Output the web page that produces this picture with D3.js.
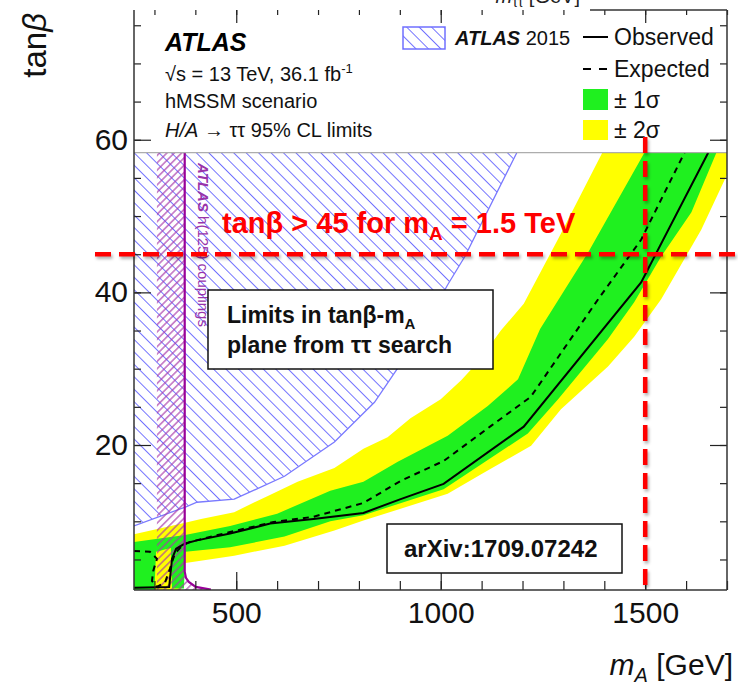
<!DOCTYPE html>
<html>
<head>
<meta charset="utf-8">
<script src="https://cdn.jsdelivr.net/npm/d3@7"></script>
<style>
  body { margin: 0; background: #fff; }
  text { font-family: "Liberation Sans", Arial, Helvetica, sans-serif; }
</style>
</head>
<body>
<div id="viz"></div>
<script>
// ---- data (mA in GeV, tan beta) ----
var tanTop = 58.3;   // top edge of the scanned region

var obsMass = [250, 336, 343, 353, 375, 404, 485, 583, 689, 811, 902, 1007, 1203, 1490, 1654];
var obsTan  = [1.3, 1.4, 5.1, 6.4, 7.1, 7.5, 8.4, 9.7, 10.3, 11.1, 12.9, 14.9, 22.4, 41.3, 58.3];

var expMass = [250, 289, 306, 297, 294, 306, 326, 338, 350, 368, 387, 485, 591, 689, 811, 902, 1007, 1123, 1220, 1385, 1490, 1596];
var expTan  = [6.1, 6.0, 5.1, 3.5, 2.2, 1.4, 2.0, 3.8, 5.8, 6.8, 7.3, 8.6, 9.9, 10.6, 12.4, 15.3, 17.9, 22.5, 26.3, 39.1, 46.9, 58.3];

var greenUpMass = [250, 375, 485, 600, 730, 811, 895, 1017, 1115, 1189, 1243, 1360, 1498];
var greenUpTan  = [7.3, 8.2, 9.4, 11.0, 14.0, 15.2, 17.8, 21.2, 25.1, 28.6, 35.2, 45.2, 58.3];
var greenLoMass = [250, 300, 304, 340, 343, 372, 376, 485, 618, 730, 811, 1007, 1213, 1287, 1409, 1473, 1539, 1613, 1674];
var greenLoTan  = [1, 1, 6.0, 6.5, 1.2, 1.2, 6.0, 6.6, 8.0, 10.0, 10.8, 14.2, 21.5, 26.0, 33.9, 38.7, 44.7, 50.5, 58.3];

var yellowUpMass = [250, 375, 414, 495, 576, 650, 740, 811, 870, 926, 1000, 1050, 1090, 1147, 1203, 1287, 1395];
var yellowUpTan  = [8.3, 9.8, 10.3, 11.2, 13.3, 15.2, 17.0, 19.5, 21.0, 23.5, 26.0, 28.5, 30.8, 35.0, 38.5, 47.0, 58.3];
var yellowLoMass = [250, 365, 372, 495, 618, 740, 811, 900, 1017, 1100, 1221, 1294, 1409, 1473, 1539, 1637, 1700, 1720];
var yellowLoTan  = [1, 1, 4.5, 5.5, 6.8, 8.8, 10.1, 11.6, 13.6, 16.2, 19.9, 24.7, 30.3, 34.2, 39.1, 48.2, 55.4, 58.3];

// ATLAS 2015 exclusion boundary
var run1Mass = [250, 377, 404, 495, 618, 740, 838, 904, 961, 1017, 1059, 1186];
var run1Tan  = [9.4, 11.9, 12.5, 12.9, 15.9, 20.4, 25.6, 30.8, 35.6, 41.0, 44.7, 58.3];

// h(125) couplings contour and the hatched side of it
var hcMass = [374, 374, 377, 384, 401, 438];
var hcTan  = [58.3, 3.4, 2.6, 2.05, 1.4, 1.05];
var hcHatchLeft = 306;

var xMajor = [500, 1000, 1500];
var yMajor = [20, 40, 60];
var limitTan = 45, limitMass = 1500;

// ---- setup ----
var width = 738, height = 688;
var svg = d3.select("#viz").append("svg")
    .attr("width", width).attr("height", height);
svg.append("rect").attr("width", width).attr("height", height).attr("fill", "#fff");

var x = d3.scaleLinear().domain([250, 1700]).range([134, 727]);
var y = d3.scaleLinear().domain([1, 77]).range([590, 10]);

var defs = svg.append("defs");
defs.append("clipPath").attr("id", "plotClip").append("rect")
    .attr("x", x(250)).attr("y", y(tanTop))
    .attr("width", x(1700) - x(250)).attr("height", y(1) - y(tanTop));

function hatch(id, size, angle, color, w) {
    var p = defs.append("pattern").attr("id", id)
        .attr("patternUnits", "userSpaceOnUse")
        .attr("width", size).attr("height", size)
        .attr("patternTransform", "rotate(" + angle + ")");
    p.append("line").attr("x1", size / 2).attr("x2", size / 2)
        .attr("y1", 0).attr("y2", size)
        .attr("stroke", color).attr("stroke-width", w);
}
hatch("blueHatch", 8.8, -45, "#7272ff", 1);
hatch("purpleHatch", 5.2, 45, "#a838a8", 1.1);

var blur = defs.append("filter").attr("id", "shadow")
    .attr("filterUnits", "userSpaceOnUse")
    .attr("x", 0).attr("y", 0).attr("width", width).attr("height", height);
blur.append("feGaussianBlur").attr("stdDeviation", 1.6);

var line = d3.line().x(function(d) { return x(d[0]); }).y(function(d) { return y(d[1]); });
function band(upM, upT, loM, loT) {
    var pts = d3.zip(upM, upT).concat(d3.zip(loM, loT).reverse());
    return line(pts) + "Z";
}

// ---- plot area ----
var plot = svg.append("g").attr("clip-path", "url(#plotClip)");

var run1Pts = d3.zip(run1Mass, run1Tan);
plot.append("path")
    .attr("d", line([[250, tanTop]].concat(run1Pts)) + "Z")
    .attr("fill", "url(#blueHatch)");
plot.append("path").attr("d", line(run1Pts))
    .attr("fill", "none").attr("stroke", "#7a7aff").attr("stroke-width", 1.3);

plot.append("path").attr("d", band(yellowUpMass, yellowUpTan, yellowLoMass, yellowLoTan))
    .attr("fill", "#ffff00");
plot.append("path").attr("d", band(greenUpMass, greenUpTan, greenLoMass, greenLoTan))
    .attr("fill", "#1ff01f");

var hcPts = d3.zip(hcMass, hcTan);
plot.append("path")
    .attr("d", line([[hcHatchLeft, tanTop]].concat(hcPts).concat([[438, 1], [hcHatchLeft, 1]])) + "Z")
    .attr("fill", "url(#purpleHatch)");

plot.append("path").attr("d", line(d3.zip(expMass, expTan)))
    .attr("fill", "none").attr("stroke", "#000").attr("stroke-width", 2)
    .attr("stroke-dasharray", "6,5");
plot.append("path").attr("d", line(d3.zip(obsMass, obsTan)))
    .attr("fill", "none").attr("stroke", "#000").attr("stroke-width", 2);
plot.append("path").attr("d", line(hcPts))
    .attr("fill", "none").attr("stroke", "#990099").attr("stroke-width", 2.2);

// grey line at the top of the scanned region
svg.append("line").attr("x1", x(250)).attr("x2", x(1700))
    .attr("y1", y(tanTop)).attr("y2", y(tanTop))
    .attr("stroke", "#999").attr("stroke-width", 1);

// ---- axes ----
function styleAxis(g, size) {
    g.select(".domain").remove();
    g.selectAll(".tick line").attr("stroke", "#222").attr("stroke-width", 1.2);
    g.selectAll("text").attr("font-size", size).attr("fill", "#111")
        .attr("font-family", "'Liberation Sans', Arial, sans-serif");
}
var xMinor = d3.range(300, 1701, 100);
var yMinor = d3.range(5, 76, 5);

svg.append("g").attr("transform", "translate(0,590)")
    .call(d3.axisBottom(x).tickValues(xMinor).tickSize(-9).tickFormat(""))
    .call(styleAxis, 30);
svg.append("g").attr("transform", "translate(0,590)")
    .call(d3.axisBottom(x).tickValues(xMajor).tickSize(-18).tickPadding(12).tickFormat(d3.format("d")))
    .call(styleAxis, 30);
svg.append("g").attr("transform", "translate(0,10)")
    .call(d3.axisTop(x).tickValues(xMinor).tickSize(-5).tickFormat(""))
    .call(styleAxis, 30);
svg.append("g").attr("transform", "translate(0,10)")
    .call(d3.axisTop(x).tickValues(xMajor).tickSize(-13).tickFormat(""))
    .call(styleAxis, 30);
svg.append("g").attr("transform", "translate(134,0)")
    .call(d3.axisLeft(y).tickValues(yMinor).tickSize(-7).tickFormat(""))
    .call(styleAxis, 30);
svg.append("g").attr("transform", "translate(134,0)")
    .call(d3.axisLeft(y).tickValues(yMajor).tickSize(-17).tickPadding(6).tickFormat(d3.format("d")))
    .call(styleAxis, 30);
svg.append("g").attr("transform", "translate(727,0)")
    .call(d3.axisRight(y).tickValues(yMinor).tickSize(-7).tickFormat(""))
    .call(styleAxis, 30);
svg.append("g").attr("transform", "translate(727,0)")
    .call(d3.axisRight(y).tickValues(yMajor).tickSize(-17).tickFormat(""))
    .call(styleAxis, 30);

// frame
var frame = svg.append("g").attr("stroke", "#333").attr("stroke-width", 1.5);
frame.append("line").attr("x1", 134).attr("x2", 134).attr("y1", 10).attr("y2", 590);
frame.append("line").attr("x1", 727).attr("x2", 727).attr("y1", 10).attr("y2", 590);
frame.append("line").attr("x1", 134).attr("x2", 727).attr("y1", 590).attr("y2", 590);
frame.append("line").attr("x1", 590).attr("x2", 727).attr("y1", 10).attr("y2", 10);

// axis titles
var xt = svg.append("text").attr("x", 733).attr("y", 675).attr("text-anchor", "end")
    .attr("font-size", 30).attr("fill", "#111");
xt.append("tspan").attr("font-style", "italic").text("m");
xt.append("tspan").attr("font-style", "italic").attr("font-size", 20).attr("dy", 7).text("A");
xt.append("tspan").attr("dy", -7).text(" [GeV]");

var yt = svg.append("text").attr("transform", "translate(46,13) rotate(-90)")
    .attr("text-anchor", "end").attr("font-size", 33).attr("fill", "#111");
yt.append("tspan").text("tan");
yt.append("tspan").attr("font-style", "italic").text("β");

// cut-off title of the panel above
var cut = svg.append("text").attr("x", 580).attr("y", 3).attr("text-anchor", "end")
    .attr("font-size", 20).attr("fill", "#222");
cut.append("tspan").attr("font-style", "italic").text("m");
cut.append("tspan").attr("font-size", 14).attr("dy", 4).text("ττ");
cut.append("tspan").attr("dy", -4).text(" [GeV]");

// ---- ATLAS label block ----
svg.append("text").attr("x", 165).attr("y", 51).attr("font-size", 25)
    .attr("font-weight", "bold").attr("font-style", "italic").attr("fill", "#000").text("ATLAS");
var l2 = svg.append("text").attr("x", 165).attr("y", 81).attr("font-size", 20).attr("fill", "#111");
l2.append("tspan").text("√s = 13 TeV, 36.1 fb");
l2.append("tspan").attr("font-size", 13).attr("dy", -8).text("-1");
svg.append("text").attr("x", 165).attr("y", 108).attr("font-size", 20).attr("fill", "#111")
    .text("hMSSM scenario");
var l4 = svg.append("text").attr("x", 165).attr("y", 137).attr("font-size", 20).attr("fill", "#111");
l4.append("tspan").attr("font-style", "italic").text("H/A");
l4.append("tspan").text(" → ττ 95% CL limits");

// ---- legend ----
svg.append("rect").attr("x", 403).attr("y", 27).attr("width", 42).attr("height", 22)
    .attr("fill", "url(#blueHatch)").attr("stroke", "#7070ff").attr("stroke-width", 1.5);
var lg = svg.append("text").attr("x", 455).attr("y", 45).attr("font-size", 20).attr("fill", "#111");
lg.append("tspan").attr("font-weight", "bold").attr("font-style", "italic").text("ATLAS");
lg.append("tspan").text(" 2015");

svg.append("line").attr("x1", 583).attr("x2", 608).attr("y1", 37).attr("y2", 37)
    .attr("stroke", "#000").attr("stroke-width", 2);
svg.append("line").attr("x1", 583).attr("x2", 608).attr("y1", 69).attr("y2", 69)
    .attr("stroke", "#000").attr("stroke-width", 2).attr("stroke-dasharray", "8,8");
svg.append("rect").attr("x", 583).attr("y", 89).attr("width", 25).attr("height", 21).attr("fill", "#1ff01f");
svg.append("rect").attr("x", 583).attr("y", 120).attr("width", 25).attr("height", 20).attr("fill", "#ffff00");
var legTexts = [["Observed", 45], ["Expected", 77], ["± 1σ", 108], ["± 2σ", 138]];
legTexts.forEach(function(d) {
    svg.append("text").attr("x", 614).attr("y", d[1]).attr("font-size", 23)
        .attr("fill", "#111").text(d[0]);
});

// ---- h(125) couplings label ----
var hl = svg.append("text").attr("transform", "translate(198,163) rotate(90)")
    .attr("font-size", 15).attr("fill", "#9933aa");
hl.append("tspan").attr("font-weight", "bold").attr("font-style", "italic").text("ATLAS");
hl.append("tspan").text(" h(125) couplings");

// ---- red limit lines ----
function redLine(x1, y1, x2, y2) {
    svg.append("line").attr("x1", x1 + 1.5).attr("x2", x2 + 1.5).attr("y1", y1 + 2.5).attr("y2", y2 + 2.5)
        .attr("stroke", "#000").attr("stroke-opacity", 0.3).attr("stroke-width", 4.5)
        .attr("stroke-dasharray", "16,8").attr("filter", "url(#shadow)");
    svg.append("line").attr("x1", x1).attr("x2", x2).attr("y1", y1).attr("y2", y2)
        .attr("stroke", "#ff0000").attr("stroke-width", 4.5).attr("stroke-dasharray", "16,8");
}
redLine(95, y(limitTan), 738, y(limitTan));
redLine(x(limitMass), 137, x(limitMass), 590);

var rt = svg.append("text").attr("x", 222).attr("y", 233).attr("font-size", 29)
    .attr("font-weight", "bold").attr("fill", "#ff0000");
rt.append("tspan").text("tanβ > 45 for m");
rt.append("tspan").attr("font-size", 19).attr("dy", 7).text("A");
rt.append("tspan").attr("dy", -7).text(" = 1.5 TeV");

// ---- text boxes ----
svg.append("rect").attr("x", 208).attr("y", 290).attr("width", 285).attr("height", 79)
    .attr("fill", "#fff").attr("stroke", "#111").attr("stroke-width", 1.5);
var b1 = svg.append("text").attr("x", 227).attr("y", 323).attr("font-size", 23)
    .attr("font-weight", "bold").attr("fill", "#111");
b1.append("tspan").text("Limits in tanβ-m");
b1.append("tspan").attr("font-size", 15).attr("dy", 6).text("A");
svg.append("text").attr("x", 227).attr("y", 353).attr("font-size", 23)
    .attr("font-weight", "bold").attr("fill", "#111").text("plane from ττ search");

svg.append("rect").attr("x", 387).attr("y", 524).attr("width", 235).attr("height", 49)
    .attr("fill", "#fff").attr("stroke", "#111").attr("stroke-width", 1.5);
svg.append("text").attr("x", 404).attr("y", 557).attr("font-size", 24)
    .attr("font-weight", "bold").attr("fill", "#111").text("arXiv:1709.07242");
</script>
</body>
</html>
